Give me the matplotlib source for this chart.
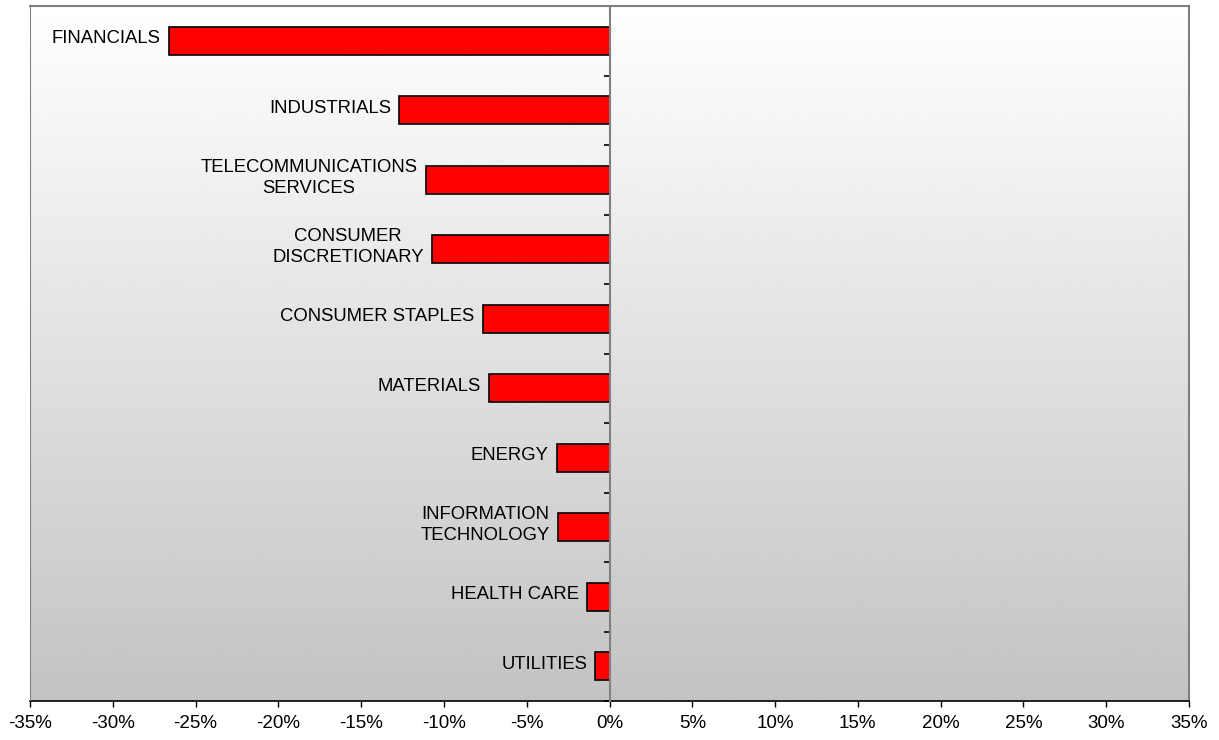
import numpy as np
import matplotlib
matplotlib.use('Agg')
import matplotlib.pyplot as plt
from matplotlib.ticker import FuncFormatter, FixedLocator

plt.rcParams['font.family'] = ['Liberation Sans', 'DejaVu Sans']

# Sector returns (%), top to bottom as in the chart
sectors = ["FINANCIALS", "INDUSTRIALS", "TELECOMMUNICATIONS\nSERVICES",
           "CONSUMER\nDISCRETIONARY", "CONSUMER STAPLES", "MATERIALS",
           "ENERGY", "INFORMATION\nTECHNOLOGY", "HEALTH CARE", "UTILITIES"]
returns = [-26.6, -12.7, -11.1, -10.7, -7.65, -7.25, -3.2, -3.1, -1.33, -0.85]
xticks_vals = list(range(-35, 36, 5))

fig = plt.figure(figsize=(12.19, 7.40), dpi=100)
ax = fig.add_axes([30 / 1219, 1 - 701 / 740, 1159 / 1219, 695 / 740])

# gradient background, white at top to grey at bottom
grad = np.linspace(1.0, 0.765, 256).reshape(-1, 1)
ax.imshow(grad, cmap='gray', vmin=0, vmax=1, aspect='auto',
          extent=(0, 1, 0, 1), transform=ax.transAxes, zorder=0)

ypos = np.arange(len(sectors))
ax.barh(ypos, returns, height=0.4, color='#ff0000', edgecolor='black',
        linewidth=1.2, zorder=3)

for y, v, name in zip(ypos, returns, sectors):
    ax.annotate(name, xy=(v, y), xytext=(-6, 1.5), textcoords='offset points',
                ha='right', va='center', multialignment='center',
                fontsize=13.3, linespacing=1.3, color='black', zorder=4)

ax.set_xlim(-35, 35)
ax.set_ylim(len(sectors) - 0.5, -0.5)

# x axis
ax.xaxis.set_major_locator(FixedLocator(xticks_vals))
ax.xaxis.set_major_formatter(FuncFormatter(lambda v, p: "%d%%" % v))
ax.tick_params(axis='x', direction='out', length=4, width=1, colors='black',
               labelsize=13.5, pad=6)
ax.spines['bottom'].set_color('black')
ax.spines['bottom'].set_linewidth(1.2)

# y axis sits at 0 with ticks between categories
ax.spines['left'].set_position(('data', 0))
ax.spines['left'].set_color('#808080')
ax.spines['left'].set_linewidth(1.5)
ax.spines['left'].set_zorder(5)
ax.yaxis.set_major_locator(FixedLocator([]))
ax.yaxis.set_minor_locator(FixedLocator(np.arange(-0.5, len(sectors), 1)))
ax.tick_params(axis='y', which='minor', direction='out', length=4.5, width=1.2,
               colors='black', labelleft=False)

for s in ['top', 'right']:
    ax.spines[s].set_color('#808080')
    ax.spines[s].set_linewidth(1.5)
ax.axvline(-35, color='#808080', linewidth=1.5, zorder=5)

fig.savefig('out.png', dpi=100)
